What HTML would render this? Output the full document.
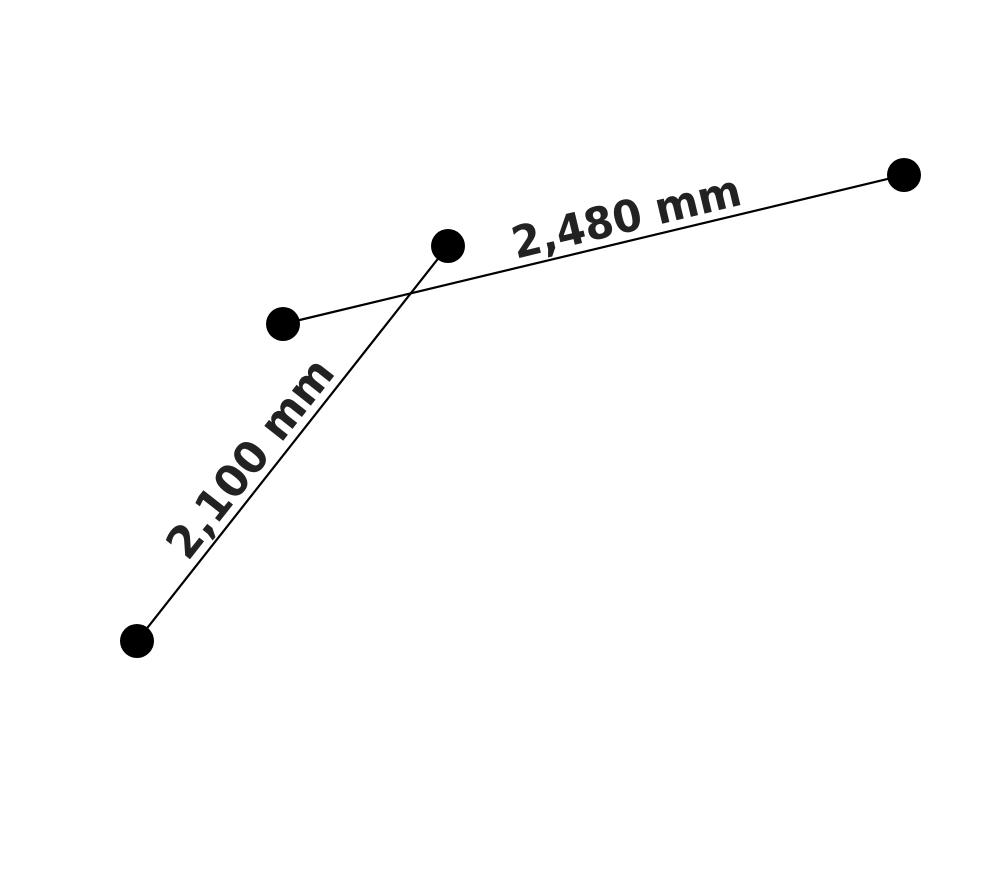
<!DOCTYPE html>
<html><head><meta charset="utf-8"><style>
html,body{margin:0;padding:0;background:#fff;}
svg{display:block;}
</style></head><body>
<svg id="chart" width="992" height="896" viewBox="0 0 992 896" xmlns="http://www.w3.org/2000/svg"></svg>
<script>
const segStartX = [283, 137];
const segStartY = [324, 641];
const segEndX = [904, 448];
const segEndY = [175, 246];
const segLabels = ["2,480 mm", "2,100 mm"];
const labelFrac = [0.562, 0.425];
const labelLen = [234, 240];

const NS = "http://www.w3.org/2000/svg";
const svg = document.getElementById('chart');
for (let i = 0; i < segLabels.length; i++) {
  const x1 = segStartX[i], y1 = segStartY[i], x2 = segEndX[i], y2 = segEndY[i];
  const line = document.createElementNS(NS, 'line');
  line.setAttribute('x1', x1); line.setAttribute('y1', y1);
  line.setAttribute('x2', x2); line.setAttribute('y2', y2);
  line.setAttribute('stroke', '#000'); line.setAttribute('stroke-width', '2.2');
  
  
  svg.appendChild(line);
  [[x1, y1], [x2, y2]].forEach(p => {
    const c = document.createElementNS(NS, 'circle');
    c.setAttribute('cx', p[0]); c.setAttribute('cy', p[1]); c.setAttribute('r', 17);
    c.setAttribute('fill', '#000');
    
    
    svg.appendChild(c);
  });
  const ang = Math.atan2(y2 - y1, x2 - x1) * 180 / Math.PI;
  const f = labelFrac[i];
  const mx = x1 + (x2 - x1) * f, my = y1 + (y2 - y1) * f;
  const t = document.createElementNS(NS, 'text');
  t.setAttribute('transform', `translate(${mx},${my}) rotate(${ang}) translate(0,-9)`);
  t.setAttribute('text-anchor', 'middle');
  t.setAttribute('font-family', '"DejaVu Sans", "Liberation Sans", sans-serif');
  t.setAttribute('font-weight', 'bold');
  t.setAttribute('font-size', '44');
  t.setAttribute('fill', '#222');
  t.setAttribute('textLength', labelLen[i]);
  t.setAttribute('lengthAdjust', 'spacingAndGlyphs');
  
  
  t.textContent = segLabels[i];
  svg.appendChild(t);
}
</script>
</body></html>
